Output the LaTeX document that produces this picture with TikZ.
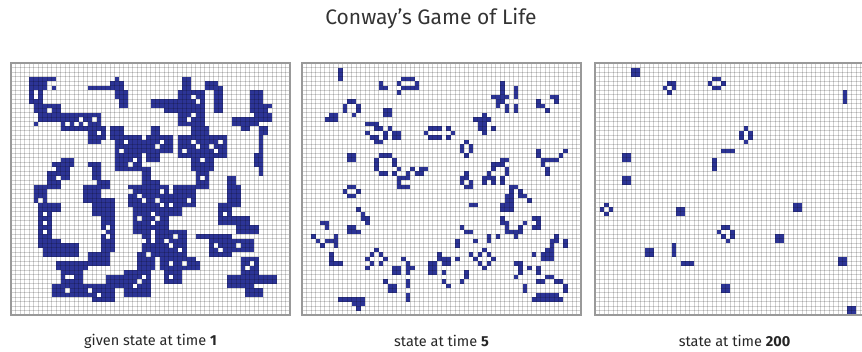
\documentclass[tikz,border=0pt]{standalone}
\usepackage{fontspec}
\setmainfont{Fira Sans}
\definecolor{cellblue}{RGB}{44,52,150}
\newcommand\lifegrid{%
  \foreach \i in {0,...,62} \draw[cellgrid] (\i,0) -- (\i,56);
  \foreach \j in {0,...,56} \draw[cellgrid] (0,\j) -- (62,\j);
  \draw[frame] (0,0) rectangle (62,56);}
\begin{document}
\begin{tikzpicture}[x=1pt,y=-1pt,line width=0.4pt,
  alive/.style={fill=cellblue},
  hole/.style={fill=white},
  cellgrid/.style={draw=black,opacity=0.18,line width=0.35pt},
  frame/.style={draw=black!40,line width=1.3pt},
  every node/.style={font=\fontsize{14.5}{17}\selectfont,text=black!85}]
 \useasboundingbox (0,0) rectangle (862,351);
 \clip (0,0) rectangle (862,351);
 \node[font=\fontsize{21}{24}\selectfont,text=black!80] (title) at (431,19) {Conway's Game of Life};
 \begin{scope}[shift={(11,63)},x=4.5pt,y=-4.5pt]
  \foreach \a/\b/\c/\d in {4/9/3/3,4/6/4/8,7/7/4/5,9/9/5/5,5/6/9/10,7/10/9/11,6/8/11/12,5/5/13/13,9/13/11/12,11/16/12/14,14/19/11/13,17/20/14/16,17/19/16/17,
    17/21/5/5,23/23/3/3,22/24/4/5,23/25/6/7,24/25/8/9,
    22/24/14/16,23/28/16/20,27/30/17/19,23/28/20/23,31/32/14/17,30/35/16/19,30/32/20/21,
    11/13/21/22,9/12/22/25,8/10/24/27,17/19/22/22,18/19/23/25,19/21/26/27,29/30/23/27,
    31/36/8/9,34/36/10/10,38/39/3/6,37/42/6/9,37/42/10/13,43/45/4/5,45/46/5/10,
    53/55/6/8,53/57/9/12,49/54/12/13,51/52/13/14,55/56/14/15,55/55/16/24,54/54/20/22,
    40/43/14/16,37/47/16/20,40/44/20/23,41/43/23/27,48/49/25/27,30/32/26/28,36/37/27/28,
    5/7/27/30,6/8/31/40,9/10/31/32,9/10/39/40,7/14/40/42,10/16/44/45,11/15/46/48,9/14/49/51,
    16/19/27/30,18/22/30/33,20/22/33/41,17/21/42/44,15/21/49/51,21/24/47/49,18/22/50/52,
    26/31/27/31,27/30/32/37,29/30/37/41,28/31/42/45,25/30/46/51,
    30/34/27/36,34/37/29/33,37/40/27/31,41/41/27/27,
    32/38/37/42,30/31/40/45,33/40/43/45,34/37/46/48,30/30/49/50,37/41/44/45,
    48/50/27/31,46/48/31/35,48/52/34/35,
    41/48/38/38,44/48/39/42,50/54/36/37,48/53/39/41,
    51/54/43/47,48/51/47/49,54/58/47/48,52/53/48/50,52/55/50/51}
   \fill[alive] (\a,\c) rectangle ({\b+1},{\d+1});
  \foreach \a/\c in {5/6,5/7,8/10,12/13,15/12,16/13,18/12,25/17,26/22,24/19,27/21,33/17,32/18,40/11,39/12,40/7,41/8,
    40/17,41/18,44/18,42/21,7/33,7/35,7/37,12/47,13/47,12/50,17/50,19/51,21/36,21/38,28/29,29/30,28/34,32/30,33/31,
    35/31,31/33,32/34,29/39,30/42,34/39,35/40,36/38,37/41,35/44,38/44,45/40,46/41,50/40,52/45,53/44,35/47,9/23,10/25,
    42/25,28/48,27/49,29/47,14/13,19/15,45/19,46/17,38/19,31/35,33/28,10/48,20/37,6/30,26/28,39/30,47/33,57/10,53/11}
   \fill[hole] (\a,\c) rectangle ++(1,1);
  \lifegrid
 \end{scope}
 \begin{scope}[shift={(302,63)},x=4.5pt,y=-4.5pt]
  \foreach \a/\b/\c/\d in {8/8/1/3,17/17/4/5,18/18/5/5,22/24/3/3,21/21/4/4,25/25/4/4,22/25/5/5,21/21/6/6,
    10/11/8/8,9/9/9/10,12/12/9/10,11/11/11/11,6/7/11/11,5/7/12/12,18/19/10/11,
    14/16/13/13,16/17/14/14,19/19/14/14,14/14/15/15,18/18/15/15,20/21/15/16,15/16/16/16,18/18/16/16,16/17/17/17,
    28/30/14/14,32/32/14/14,27/27/15/15,33/33/15/15,28/30/16/16,32/32/16/16,10/11/20/21,
    17/19/20/20,16/16/21/23,20/20/21/22,21/21/23/23,17/18/24/24,20/20/24/24,
    24/24/23/23,26/27/23/23,23/23/24/24,25/26/24/24,21/23/25/25,21/21/26/26,21/23/27/27,
    10/11/27/27,9/9/28/28,12/12/28/28,10/11/29/29,
    12/12/32/32,13/13/33/33,13/14/34/34,14/14/35/35,10/11/36/36,10/12/37/37,
    4/5/35/35,5/5/36/36,2/2/38/38,3/3/39/39,4/4/40/40,5/6/39/39,7/7/38/40,6/6/42/43,6/8/44/44,
    16/16/41/41,15/15/42/42,17/17/42/42,14/14/43/43,18/18/43/43,15/15/44/44,17/17/44/44,14/14/45/45,
    22/22/43/43,23/23/44/46,20/21/45/46,24/24/45/45,18/18/48/48,19/20/49/50,23/23/48/49,23/23/51/52,
    28/29/44/46,30/30/42/42,30/32/43/43,31/32/44/44,34/34/43/43,31/31/46/46,31/31/48/48,32/32/49/49,
    8/13/52/52,11/13/53/53,12/12/54/54,
    37/37/27/27,37/38/31/31,46/46/27/28,45/46/29/32,44/44/31/32,47/47/27/27,48/48/28/29,49/49/29/29,50/50/30/30,
    44/44/34/35,45/45/35/37,46/47/37/37,47/47/38/38,48/48/36/37,49/49/35/35,51/52/34/34,52/52/35/36,51/51/36/36,
    56/56/38/39,55/55/39/40,54/55/41/43,53/53/42/43,51/51/42/42,58/58/39/40,
    35/35/36/36,36/37/37/37,34/34/39/40,38/38/39/39,41/41/38/39,43/43/38/38,
    40/40/41/41,39/39/42/42,41/41/42/42,38/38/43/43,42/42/43/43,39/39/44/44,41/41/44/44,40/40/45/45,
    37/37/42/42,47/48/44/44,48/48/45/46,47/47/47/47,50/50/45/45,52/52/45/46,52/52/48/48,36/36/46/47,35/35/48/48,
    54/55/47/47,52/53/48/48,56/57/48/48,58/58/49/50,52/56/51/51,51/57/52/52,49/49/49/50,
    44/44/4/6,47/47/5/7,42/45/7/7,43/44/8/8,43/43/9/9,45/45/9/10,47/47/9/10,
    55/56/7/7,52/52/8/9,53/53/9/9,54/54/10/10,56/56/8/8,
    40/40/11/11,38/41/12/12,39/40/13/14,42/42/14/14,40/40/15/15,
    36/36/17/17,35/35/18/19,37/37/18/19,36/36/20/20,
    52/52/19/20,53/56/21/21,57/57/20/20,58/58/19/19,53/53/22/22,54/54/23/24,
    36/36/24/24,35/36/25/25,35/35/26/26,37/37/26/26,36/37/27/27,
    44/45/21/21,44/44/22/22,42/43/22/22,42/42/23/23,41/41/24/24,45/45/23/24,40/42/25/25,40/40/26/26,42/42/26/26,44/44/25/26}
   \fill[alive] (\a,\c) rectangle ({\b+1},{\d+1});
  \lifegrid
 \end{scope}
 \begin{scope}[shift={(595,63)},x=4.5pt,y=-4.5pt]
  \foreach \a/\b/\c/\d in {8/9/1/2,16/17/4/4,15/15/5/5,17/17/5/5,16/16/6/6,
    26/27/3/3,25/25/4/4,28/28/4/4,26/27/5/5,
    55/55/6/8,33/33/14/14,32/32/15/16,34/34/15/16,33/33/17/17,
    28/30/19/19,26/26/21/23,6/7/20/21,6/7/25/26,
    2/2/31/31,1/1/32/32,3/3/32/32,2/2/33/33,
    18/19/32/33,28/29/36/36,27/27/37/37,30/30/37/38,28/28/38/38,29/29/39/39,
    44/45/31/32,40/41/38/39,11/12/41/42,17/17/40/42,19/21/44/44,54/55/43/44,28/29/49/50,56/57/54/55}
   \fill[alive] (\a,\c) rectangle ({\b+1},{\d+1});
  \lifegrid
 \end{scope}
 \node (capA) at (150.5,341) {given state at time \textbf{1}};
 \node (capB) at (441.5,341) {state at time \textbf{5}};
 \node (capC) at (734.5,341) {state at time \textbf{200}};
\end{tikzpicture}
\end{document}
